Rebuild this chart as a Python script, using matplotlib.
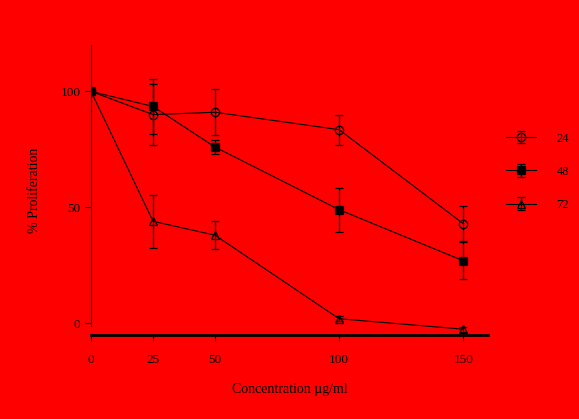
import matplotlib
matplotlib.use("Agg")
import matplotlib.pyplot as plt

plt.rcParams['font.family'] = ['Liberation Serif', 'DejaVu Serif']

# concentration series and proliferation means / error bars (SD)
conc = [0, 25, 50, 100, 150]
labels = ["24", "48", "72"]
prolif_24 = [100, 90, 91, 83.5, 43]
err_24 = [0, 13, 10, 6.5, 7.5]
prolif_48 = [100, 93.5, 76, 49, 27]
err_48 = [0, 12, 3, 9.5, 8]
prolif_72 = [100, 44, 38, 2, -2.5]
err_72 = [0, 11.5, 6, 1, 1]

fig = plt.figure(figsize=(5.79, 4.19), dpi=100, facecolor='#ff0000')
ax = fig.add_axes([0.1572, 0.2005, 0.6857, 0.6921], facecolor='#ff0000')

styles = [
    (prolif_24, err_24, 'o', 'none'),
    (prolif_48, err_48, 's', 'black'),
    (prolif_72, err_72, '^', 'none'),
]
for (vals, errs, mk, fc), lab in zip(styles, labels):
    ax.errorbar(conc, vals, yerr=errs, color='black', lw=0.8, marker=mk,
                markersize=6, markerfacecolor=fc, markeredgecolor='black',
                markeredgewidth=0.9, capsize=3, elinewidth=0.9, capthick=0.9,
                label=lab)

ax.set_xlim(0, 160)
ax.set_ylim(-5, 120)
ax.set_xticks(conc)
ax.set_yticks([0, 50, 100])
ax.spines['top'].set_visible(False)
ax.spines['right'].set_visible(False)
ax.spines['left'].set_bounds(-1, 120)
ax.spines['bottom'].set_linewidth(2)
ax.tick_params(axis='both', labelsize=9.5, color='black', length=4, width=0.8)
ax.tick_params(axis='x', pad=10)

ax.set_xlabel("Concentration µg/ml", fontsize=10, labelpad=12)
ax.set_ylabel("% Proliferation", fontsize=10, labelpad=14)

fig.legend(loc='center left', bbox_to_anchor=(0.855, 0.59), frameon=False,
           fontsize=9, handlelength=2.4, labelspacing=1.7, handletextpad=1.6)

fig.savefig("out.png", dpi=100, facecolor=fig.get_facecolor())
